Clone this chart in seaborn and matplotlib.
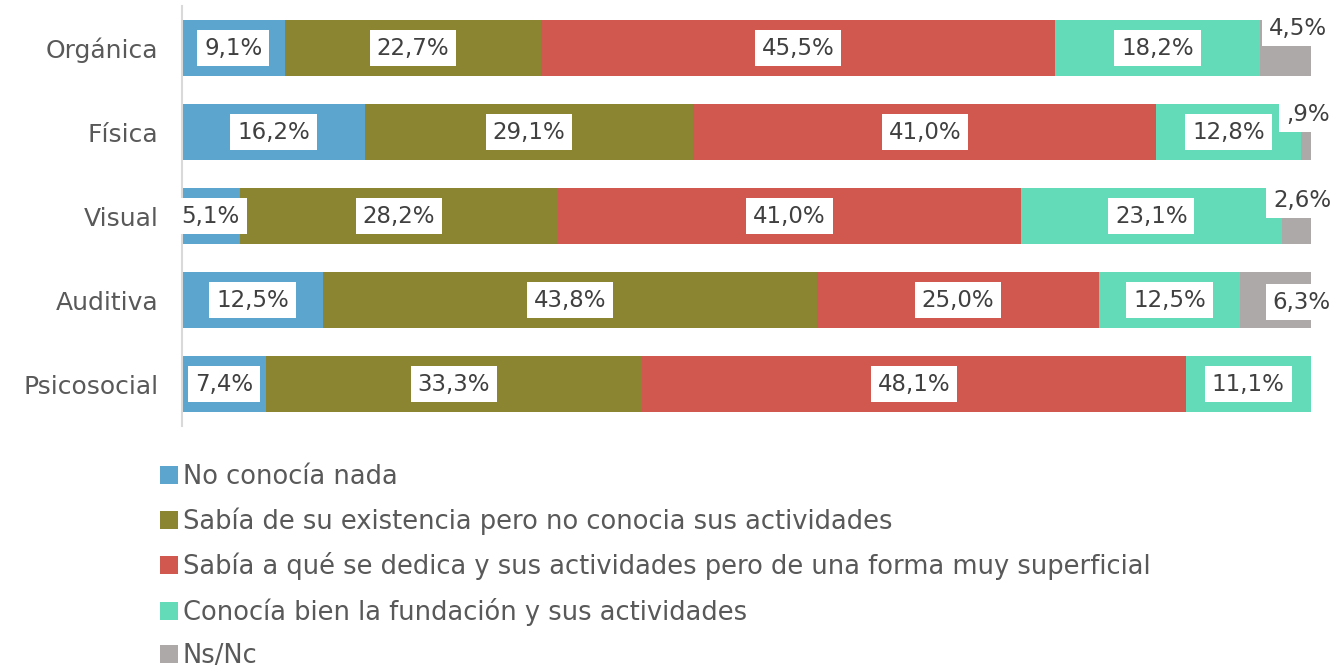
import numpy as np
import pandas as pd
import matplotlib
matplotlib.use("Agg")
import matplotlib.pyplot as plt
import seaborn as sns
from matplotlib.patches import Patch

# Datos
categorias = ["Orgánica", "Física", "Visual", "Auditiva", "Psicosocial"]
series = ["No conocía nada",
          "Sabía de su existencia pero no conocia sus actividades",
          "Sabía a qué se dedica y sus actividades pero de una forma muy superficial",
          "Conocía bien la fundación y sus actividades",
          "Ns/Nc"]
no_conocia = [9.1, 16.2, 5.1, 12.5, 7.4]
sabia_existencia = [22.7, 29.1, 28.2, 43.8, 33.3]
sabia_superficial = [45.5, 41.0, 41.0, 25.0, 48.1]
conocia_bien = [18.2, 12.8, 23.1, 12.5, 11.1]
ns_nc = [4.5, 0.9, 2.6, 6.3, 0.0]

colores = ["#5BA5CF", "#8B8430", "#D1584F", "#63DBB9", "#ADA9A8"]

sns.set_style("white")
plt.rcParams["font.family"] = ["DejaVu Sans"]

valores = np.array([no_conocia, sabia_existencia, sabia_superficial, conocia_bien, ns_nc])
totales = valores.sum(axis=0)
porcentajes = valores / totales * 100  # gráfico 100% apilado
acumulado = np.cumsum(porcentajes, axis=0)

fig = plt.figure(figsize=(13.34, 6.71), dpi=100)
ax = fig.add_axes([182 / 1334, 1 - 426 / 671, (1311 - 182) / 1334, 420 / 671])

# barras apiladas: se dibujan los acumulados de mayor a menor
for i in range(len(series) - 1, -1, -1):
    df = pd.DataFrame({"cat": categorias, "val": acumulado[i]})
    sns.barplot(data=df, x="val", y="cat", color=colores[i], orient="h",
                width=0.67, ax=ax, saturation=1, linewidth=0)

# etiquetas de datos
desplaz_nsnc = [(12, 20), (2, 18), (6, 16), (26, -2), (0, 0)]
for i in range(len(series)):
    for j in range(len(categorias)):
        v = valores[i, j]
        if v <= 0:
            continue
        txt = f"{v:.1f}%".replace(".", ",")
        if txt.startswith("0"):
            txt = txt[1:]
        centro = acumulado[i, j] - porcentajes[i, j] / 2
        off = desplaz_nsnc[j] if i == len(series) - 1 else (0, 0)
        ax.annotate(txt, (centro, j), xytext=off, textcoords="offset pixels",
                    ha="center", va="center", fontsize=16.5, color="#404040",
                    annotation_clip=False, zorder=5,
                    bbox=dict(boxstyle="square,pad=0.3", fc="white", ec="none"))

ax.set_xlim(0, 100)
ax.set_ylim(4.5, -0.5)
ax.set_xlabel("")
ax.set_ylabel("")
ax.set_xticks([])
ax.tick_params(axis="y", length=0, labelsize=18, labelcolor="#595959", pad=17)
for s in ["top", "right", "bottom"]:
    ax.spines[s].set_visible(False)
ax.spines["left"].set_color("#D9D9D9")
ax.spines["left"].set_linewidth(1.5)

handles = [Patch(facecolor=c, edgecolor="none") for c in colores]
fig.legend(handles, series, loc="upper left", bbox_to_anchor=(147 / 1334, 1 - 451 / 671),
           frameon=False, fontsize=18.5, labelcolor="#595959", handlelength=0.7,
           handleheight=0.7, handletextpad=0.2, labelspacing=0.68, borderpad=0)

fig.savefig("out.png", dpi=100)
